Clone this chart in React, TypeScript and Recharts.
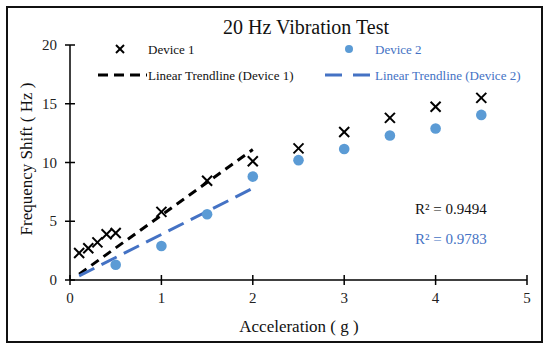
import { ScatterChart, Scatter, XAxis, YAxis } from "recharts"

const accel1 = [0.1, 0.2, 0.3, 0.4, 0.5, 1, 1.5, 2, 2.5, 3, 3.5, 4, 4.5]
const shift1 = [2.3, 2.7, 3.2, 3.9, 4.0, 5.8, 8.45, 10.1, 11.2, 12.6, 13.8, 14.75, 15.5]
const accel2 = [0.5, 1, 1.5, 2, 2.5, 3, 3.5, 4, 4.5]
const shift2 = [1.3, 2.9, 5.6, 8.8, 10.2, 11.15, 12.3, 12.9, 14.05]
const trendX = [0.1, 2]
const trend1Y = [0.5, 11.1]
const trend2Y = [0.35, 7.8]
const xTicks = [0, 1, 2, 3, 4, 5]
const yTicks = [0, 5, 10, 15, 20]

const device1 = accel1.map((x, i) => ({ x, y: shift1[i] }))
const device2 = accel2.map((x, i) => ({ x, y: shift2[i] }))
const trend1 = trendX.map((x, i) => ({ x, y: trend1Y[i] }))
const trend2 = trendX.map((x, i) => ({ x, y: trend2Y[i] }))

const FONT = "'Liberation Serif', serif"
const BLUE_DOT = "#5B9BD5"
const BLUE = "#4472C4"

function XTick({ x, y, payload }: any) {
  return (
    <g>
      <line x1={x} x2={x} y1={y - 5} y2={y + 5} stroke="#000" strokeWidth={1.5} />
      <text x={x} y={y + 23} textAnchor="middle" fontSize={15} fontFamily={FONT} fill="#222">
        {payload.value}
      </text>
    </g>
  )
}

function YTick({ x, y, payload }: any) {
  return (
    <g>
      <line x1={x - 5} x2={x + 5} y1={y} y2={y} stroke="#000" strokeWidth={1.5} />
      <text x={x - 13} y={y + 5} textAnchor="end" fontSize={15} fontFamily={FONT} fill="#222">
        {payload.value}
      </text>
    </g>
  )
}

const Cross = ({ cx, cy }: any) => (
  <g stroke="#000" strokeWidth={2}>
    <line x1={cx - 5} y1={cy - 5} x2={cx + 5} y2={cy + 5} />
    <line x1={cx - 5} y1={cy + 5} x2={cx + 5} y2={cy - 5} />
  </g>
)

const Dot = ({ cx, cy }: any) => <circle cx={cx} cy={cy} r={5.3} fill={BLUE_DOT} />

const Nothing = () => <g />

const abs = (left: number, top: number, extra: any = {}) => ({
  position: "absolute" as const,
  left,
  top,
  fontFamily: FONT,
  whiteSpace: "nowrap" as const,
  lineHeight: 1,
  ...extra,
})

export default function App() {
  return (
    <div style={{ position: "absolute", left: 0, top: 0, width: 550, height: 351, background: "#fff" }}>
      <div
        style={{
          position: "absolute",
          left: 6,
          top: 6,
          width: 537,
          height: 337,
          boxSizing: "border-box",
          border: "2px solid #111",
        }}
      />
      <ScatterChart width={550} height={351} margin={{ top: 45, right: 23, bottom: 31, left: 10 }}>
        <XAxis
          type="number"
          dataKey="x"
          domain={[0, 5]}
          ticks={xTicks}
          height={40}
          axisLine={{ stroke: "#000", strokeWidth: 1.5 }}
          tickLine={false}
          tickSize={0}
          tickMargin={0}
          tick={<XTick />}
        />
        <YAxis
          type="number"
          dataKey="y"
          domain={[0, 20]}
          ticks={yTicks}
          width={60}
          axisLine={{ stroke: "#000", strokeWidth: 1.5 }}
          tickLine={false}
          tickSize={0}
          tickMargin={0}
          tick={<YTick />}
        />
        <Scatter
          data={trend1}
          shape={Nothing}
          line={{ stroke: "#000", strokeWidth: 3, strokeDasharray: "9 6" }}
          isAnimationActive={false}
        />
        <Scatter
          data={trend2}
          shape={Nothing}
          line={{ stroke: BLUE, strokeWidth: 3, strokeDasharray: "17 8" }}
          isAnimationActive={false}
        />
        <Scatter data={device1} shape={Cross} isAnimationActive={false} />
        <Scatter data={device2} shape={Dot} isAnimationActive={false} />
      </ScatterChart>

      <div style={abs(0, 17, { width: 612, textAlign: "center", fontSize: 20, color: "#111" })}>
        20 Hz Vibration Test
      </div>

      {/* legend */}
      <svg style={{ position: "absolute", left: 90, top: 40 }} width={290} height={45}>
        <g stroke="#000" strokeWidth={2}>
          <line x1={26} y1={5} x2={34} y2={13} />
          <line x1={26} y1={13} x2={34} y2={5} />
        </g>
        <line x1={8} y1={35} x2={57} y2={35} stroke="#000" strokeWidth={3} strokeDasharray="10 6" />
        <circle cx={259} cy={9} r={4} fill={BLUE_DOT} />
        <line x1={235} y1={35} x2={280} y2={35} stroke={BLUE} strokeWidth={3} strokeDasharray="17 11" />
      </svg>
      <div style={abs(148, 43, { fontSize: 13, color: "#111" })}>Device 1</div>
      <div style={abs(148, 69, { fontSize: 13, color: "#111" })}>Linear Trendline (Device 1)</div>
      <div style={abs(375, 43, { fontSize: 13, color: BLUE })}>Device 2</div>
      <div style={abs(375, 69, { fontSize: 13, color: BLUE })}>Linear Trendline (Device 2)</div>

      <div style={abs(415, 202, { fontSize: 15, color: "#111" })}>R² = 0.9494</div>
      <div style={abs(415, 232, { fontSize: 15, color: BLUE })}>R² = 0.9783</div>

      <div style={abs(0, 318, { width: 598, textAlign: "center", fontSize: 17, color: "#111" })}>
        Acceleration ( g )
      </div>
      <div
        style={abs(26, 159, {
          fontSize: 17,
          color: "#111",
          transform: "translate(-50%, -50%) rotate(-90deg)",
        })}
      >
        Frequency Shift ( Hz )
      </div>
    </div>
  )
}
